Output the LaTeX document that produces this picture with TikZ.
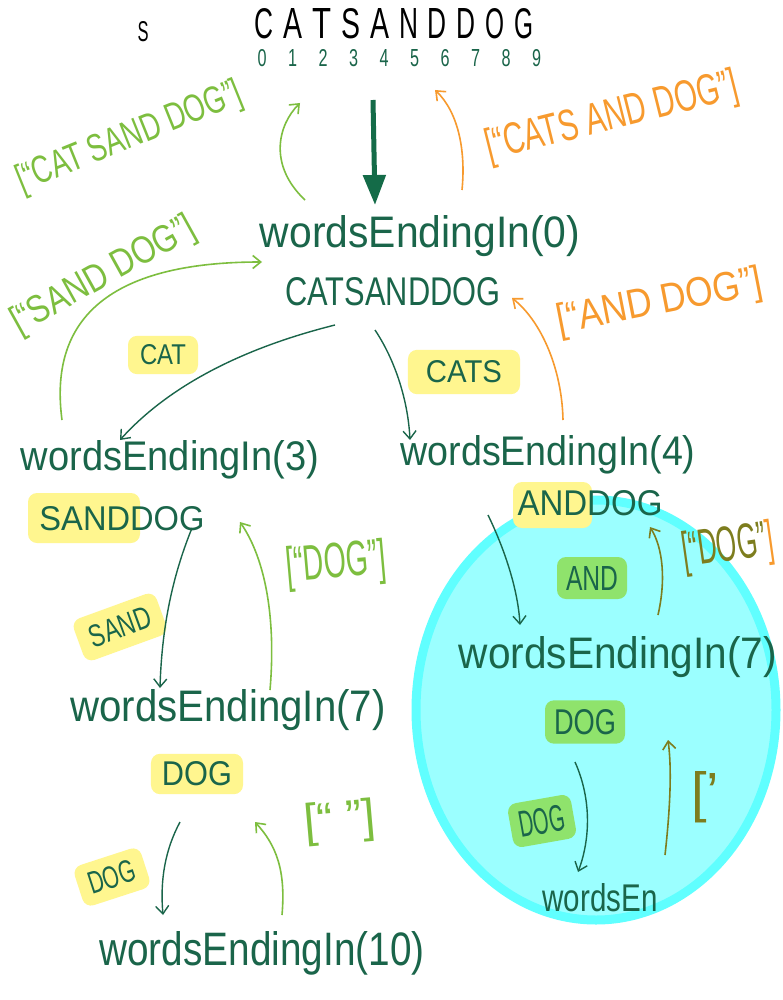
\documentclass[tikz,border=0pt]{standalone}
\usepackage{fontspec}
\setmainfont{Liberation Sans}
\usepackage{graphicx}
\usetikzlibrary{arrows.meta}
\definecolor{dkg}{HTML}{1A654A}
\definecolor{bigg}{HTML}{146B48}
\definecolor{lgr}{HTML}{7DBE3F}
\definecolor{org}{HTML}{F79A2E}
\definecolor{yel}{HTML}{FFF68F}
\definecolor{hgr}{HTML}{8FE36C}
\definecolor{cyfill}{HTML}{9BFFFF}
\definecolor{cyedge}{HTML}{60FFFF}
\definecolor{olv}{HTML}{7D7D1E}
\newcommand{\fitbox}[3]{\resizebox{#1pt}{#2pt}{#3}}
\begin{document}
\begin{tikzpicture}[x=1pt,y=1pt,
  txt/.style={inner sep=0pt, text=dkg},
  hly/.style={fill=yel, rounded corners=9pt, inner xsep=11pt, inner ysep=8pt, text=dkg},
  hlg/.style={fill=hgr, rounded corners=9pt, inner xsep=9pt, inner ysep=9pt, text=dkg},
  tip/.style={-{Straight Barb[length=8pt,width=13pt]}},
  darr/.style={draw=dkg, line width=1.4pt, tip},
  garr/.style={draw=lgr, line width=1.6pt, tip},
  oarr/.style={draw=org, line width=1.6pt, tip},
  varr/.style={draw=olv, line width=1.6pt, tip}]
\useasboundingbox[fill=white] (0,0) rectangle (783,-1000);

% cyan circle
\path[fill=cyfill, draw=cyedge, line width=9pt] (596,-710) ellipse [x radius=180, y radius=210];

% title
\node[inner sep=0pt] (S) at (143,-32) {\fitbox{11}{20}{S}};
\foreach \c [count=\i from 0] in {C,A,T,S,A,N,D,D,O,G}
  \node[inner sep=0pt] (t\i) at ({264+28.9*\i},-24) {\fitbox{19}{30}{\c}};
\foreach \d in {0,...,9}
  \node[txt] (d\d) at ({262+30.5*\d},-58) {\fitbox{9}{17}{\d}};

% main nodes
\node[txt] (w0) at (420,-236) {\fitbox{320}{32}{wordsEndingIn(0)}};
\node[txt] (s0) at (393,-292) {\fitbox{215}{28}{CATSANDDOG}};
\node[txt] (w3) at (170,-460) {\fitbox{298}{30}{wordsEndingIn(3)}};
\node[txt] (w4) at (548,-455) {\fitbox{295}{30}{wordsEndingIn(4)}};
\fill[yel, rounded corners=9pt] (28,-493) rectangle (140,-543);
\node[txt] (s3) at (122,-519) {\fitbox{165}{24}{SANDDOG}};
\node[txt] (w7) at (228,-710) {\fitbox{315}{32}{wordsEndingIn(7)}};
\node[hly] (s7) at (197,-774) {\fitbox{70}{24}{DOG}};
\node[txt] (w10) at (262,-953) {\fitbox{325}{34}{wordsEndingIn(10)}};

\fill[yel, rounded corners=9pt] (513,-482) rectangle (592,-528);
\node[txt] (s4) at (590,-503) {\fitbox{145}{25}{ANDDOG}};
\node[txt] (wr7) at (618,-657) {\fitbox{318}{32}{wordsEndingIn(7)}};
\node[hlg] (sr7) at (585,-722) {\fitbox{62}{25}{DOG}};
\node[txt] (wen) at (600,-898) {\fitbox{115}{28}{wordsEn}};

% edge labels (highlighted)
\node[hly, inner xsep=12pt, inner ysep=9pt] (lcat) at (163,-355) {\fitbox{46}{20}{CAT}};
\node[hly, inner xsep=18pt, inner ysep=11pt] (lcats) at (464,-372) {\fitbox{76}{22}{CATS}};
\node[hly, rotate=20, inner xsep=12pt, inner ysep=11pt] (lsand) at (120,-627) {\fitbox{64}{22}{SAND}};
\node[hly, rotate=18, inner ysep=10pt] (ldog) at (112,-877) {\fitbox{48}{22}{DOG}};
\node[hlg] (land) at (592,-578) {\fitbox{52}{24}{AND}};
\node[hlg, rotate=10] (ldogr) at (542,-821) {\fitbox{46}{26}{DOG}};

% result labels
\node[inner sep=0pt, text=lgr, rotate=22] (rcsd) at (130,-138) {\fitbox{240}{28}{[“CAT SAND DOG”]}};
\node[inner sep=0pt, text=org, rotate=14] (rcad) at (612,-118) {\fitbox{258}{32}{[“CATS AND DOG”]}};
\node[inner sep=0pt, text=lgr, rotate=29] (rsd) at (104,-276) {\fitbox{205}{28}{[“SAND DOG”]}};
\node[inner sep=0pt, text=org, rotate=11] (rad) at (660,-303) {\fitbox{208}{30}{[“AND DOG”]}};
\node[inner sep=0pt, text=lgr, rotate=5] (rdog) at (336,-565) {\fitbox{100}{36}{[“DOG”]}};
\node[inner sep=0pt, text=lgr, rotate=5] (rempty) at (340,-822) {\fitbox{72}{34}{[“ ”]}};
\node[inner sep=0pt, rotate=8] (rdogr) at (728,-548) {\fitbox{92}{36}{\textcolor{olv}{[“DOG”}\textcolor{org}{]}}};
\node[inner sep=0pt, text=olv] (rpart) at (705,-797) {\fitbox{28}{40}{[’}};

% connector endpoints
\coordinate (bigtop) at (373,-100);
\coordinate (bigend) at (375,-205);
\coordinate (a1s) at (305,-200); \coordinate (a1e) at (300,-103);
\coordinate (a2s) at (462,-190); \coordinate (a2e) at (435,-90);
\coordinate (a3s) at (62,-420);  \coordinate (a3e) at (262,-262);
\coordinate (a4s) at (563,-420); \coordinate (a4e) at (512,-298);
\coordinate (a5s) at (335,-325); \coordinate (a5e) at (120,-440);
\coordinate (a6s) at (375,-330); \coordinate (a6e) at (410,-440);
\coordinate (a7s) at (192,-528); \coordinate (a7e) at (160,-688);
\coordinate (a8s) at (270,-690); \coordinate (a8e) at (240,-522);
\coordinate (a9s) at (180,-822); \coordinate (a9e) at (163,-915);
\coordinate (a10s) at (282,-915); \coordinate (a10e) at (255,-822);
\coordinate (a11s) at (488,-515); \coordinate (a11e) at (520,-625);
\coordinate (a12s) at (658,-615); \coordinate (a12e) at (650,-527);
\coordinate (a13s) at (575,-762); \coordinate (a13e) at (578,-872);
\coordinate (a14s) at (665,-855); \coordinate (a14e) at (668,-740);

% connectors
\draw[bigg, line width=5pt, -{Triangle[length=30pt,width=22pt]}] (bigtop) -- (bigend);
\draw[garr] (a1s) .. controls (268,-165) and (278,-125) .. (a1e);
\draw[oarr] (a2s) .. controls (466,-150) and (458,-112) .. (a2e);
\draw[garr] (a3s) .. controls (50,-330) and (95,-262) .. (a3e);
\draw[oarr] (a4s) .. controls (562,-370) and (542,-322) .. (a4e);
\draw[darr] (a5s) .. controls (235,-350) and (165,-390) .. (a5e);
\draw[darr] (a6s) .. controls (395,-360) and (408,-400) .. (a6e);
\draw[darr] (a7s) .. controls (175,-570) and (162,-620) .. (a7e);
\draw[garr] (a8s) .. controls (276,-620) and (266,-560) .. (a8e);
\draw[darr] (a9s) .. controls (165,-850) and (160,-880) .. (a9e);
\draw[garr] (a10s) .. controls (286,-870) and (276,-845) .. (a10e);
\draw[darr] (a11s) .. controls (505,-550) and (518,-590) .. (a11e);
\draw[varr] (a12s) .. controls (666,-580) and (663,-548) .. (a12e);
\draw[darr] (a13s) .. controls (592,-800) and (590,-840) .. (a13e);
\draw[varr] (a14s) .. controls (670,-810) and (672,-770) .. (a14e);
\end{tikzpicture}
\end{document}
